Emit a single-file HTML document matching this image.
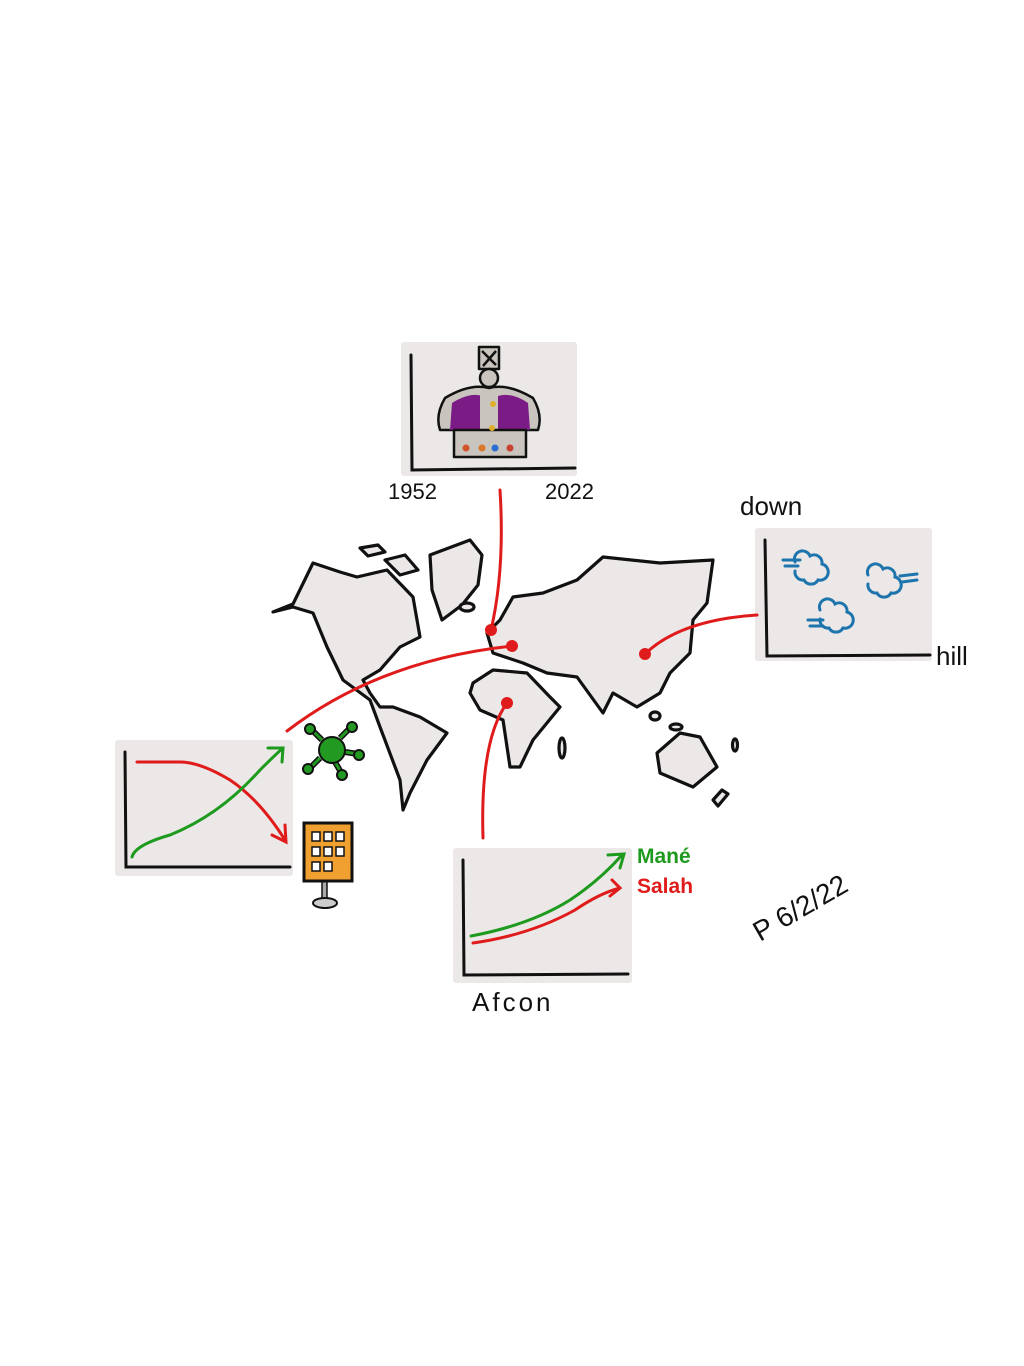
<!DOCTYPE html>
<html><head><meta charset="utf-8"><style>
html,body{margin:0;padding:0;background:#fff;}
svg{display:block}
text{font-family:"Liberation Sans",sans-serif;}
</style></head><body>
<svg width="1024" height="1366" viewBox="0 0 1024 1366" xmlns="http://www.w3.org/2000/svg">
<rect width="1024" height="1366" fill="#fff"/>
<rect x="401" y="342" width="176" height="134" fill="#ebe8e7" rx="3"/>
<rect x="755" y="528" width="177" height="133" fill="#ebe8e7" rx="3"/>
<rect x="115" y="740" width="178" height="136" fill="#ebe8e7" rx="3"/>
<rect x="453" y="848" width="179" height="135" fill="#ebe8e7" rx="3"/>
<g stroke="#111" stroke-width="3" fill="none" stroke-linecap="round">
<path d="M411 355 L412 470 L575 468"/>
<path d="M765 540 L767 656 L930 655"/>
<path d="M125 752 L126 867 L290 867"/>
<path d="M463 860 L464 975 L628 974"/>
</g>
<g stroke="#111" stroke-width="2.5" stroke-linejoin="round">
<rect x="479" y="347" width="20" height="22" fill="#c9c4bd"/>
<path d="M482 351 L496 365 M496 351 L483 366" fill="none"/>
<circle cx="489" cy="378" r="9" fill="#c9c4bd"/>
<path d="M445 398 Q470 383 489 388 Q508 383 533 398 Q543 415 538 430 L440 430 Q435 415 445 398Z" fill="#c9c4bd"/>
<path d="M452 403 Q470 392 482 396 L484 430 L450 430Z M498 396 Q512 392 528 403 L530 430 L497 430Z" fill="#7a1b86" stroke="none"/>
<path d="M480 395 L498 395 L498 432 L480 432Z" fill="#c9c4bd" stroke="none"/>
<path d="M454 430 L526 430 L526 457 L454 457Z" fill="#c9c4bd"/>
</g>
<circle cx="466" cy="448" r="3.5" fill="#d2552a"/><circle cx="482" cy="448" r="3.5" fill="#d9782a"/>
<circle cx="495" cy="448" r="3.5" fill="#2c6ed1"/><circle cx="510" cy="448" r="3.5" fill="#c94130"/>
<circle cx="493" cy="404" r="3" fill="#e0b02a"/><circle cx="492" cy="428" r="3" fill="#e0b02a"/>
<text x="388" y="499" font-size="22" fill="#111">1952</text>
<text x="545" y="499" font-size="22" fill="#111">2022</text>
<g fill="#ebe8e7" stroke="#111" stroke-width="3.2" stroke-linejoin="round">
<path d="M273 612 L293 604 L313 563 L340 572 L357 577 L387 570 L413 597 L420 637 L400 647 L380 670 L363 680 L370 693 L380 707 L393 707 L420 717 L447 733 L427 760 L410 793 L403 810 L400 780 L380 727 L370 700 L343 680 L327 647 L313 613 L293 607Z"/>
<path d="M430 555 L470 540 L482 555 L478 585 L462 605 L442 620 L432 590Z"/>
<path d="M360 548 L378 545 L385 552 L368 556Z"/>
<path d="M385 560 L405 555 L418 570 L400 575Z"/>
<path d="M500 620 L513 597 L543 593 L577 580 L603 557 L660 563 L713 560 L707 603 L693 620 L690 653 L670 673 L660 693 L637 707 L613 693 L603 713 L577 677 L547 673 L523 663 L493 653 L487 633Z"/>
<path d="M473 683 L493 670 L527 673 L550 697 L560 707 L533 740 L520 767 L510 767 L503 720 L480 710 L470 693Z"/>
<path d="M657 753 L680 733 L700 737 L717 767 L693 787 L660 773Z"/>
<ellipse cx="562" cy="748" rx="3" ry="10"/>
<ellipse cx="676" cy="727" rx="6" ry="3"/>
<ellipse cx="735" cy="745" rx="2.5" ry="6"/>
<path d="M713 800 L722 790 L728 794 L718 806Z"/>
<ellipse cx="467" cy="607" rx="7" ry="4"/>
<ellipse cx="655" cy="716" rx="5" ry="4"/>
</g>
<g stroke="#e01b1b" stroke-width="3" fill="none" stroke-linecap="round">
<path d="M500 490 Q505 570 491 630"/>
<path d="M287 731 Q380 660 512 646"/>
<path d="M483 838 Q480 740 507 703"/>
<path d="M757 615 Q680 620 645 654"/>
</g>
<g fill="#e01b1b"><circle cx="491" cy="630" r="6"/><circle cx="512" cy="646" r="6"/><circle cx="507" cy="703" r="6"/><circle cx="645" cy="654" r="6"/></g>
<g stroke="#1e74ad" stroke-width="3" fill="none" stroke-linecap="round">
<path d="M795 562 a8 8 0 0 1 15 -6 a8 8 0 0 1 12 8 a8 8 0 0 1 -4 16 a8 8 0 0 1 -14 0 a8 8 0 0 1 -9 -9"/>
<path d="M783 560 L800 560 M785 566 L798 566"/>
<path d="M820 610 a8 8 0 0 1 15 -6 a8 8 0 0 1 12 8 a8 8 0 0 1 -4 16 a8 8 0 0 1 -14 0 a8 8 0 0 1 -9 -9"/>
<path d="M808 620 L823 620 M810 626 L823 626"/>
<path d="M868 575 a8 8 0 0 1 15 -6 a8 8 0 0 1 12 8 a8 8 0 0 1 -4 16 a8 8 0 0 1 -14 0 a8 8 0 0 1 -9 -9"/>
<path d="M900 576 L917 574 M902 582 L917 580"/>
</g>
<text x="740" y="515" font-size="26" fill="#111">down</text>
<text x="936" y="665" font-size="26" fill="#111">hill</text>
<g fill="none" stroke-width="3" stroke-linecap="round">
<path d="M137 762 L180 762 Q200 762 230 780 Q260 800 285 840 M272 835 L286 842 L285 825" stroke="#e01b1b"/>
<path d="M132 857 Q135 845 170 835 Q220 815 260 770 Q275 755 283 748 M268 748 L283 748 L282 762" stroke="#1e9a1e"/>
</g>
<g stroke="#111" stroke-width="2" fill="#229a22">
<path d="M322 740 L312 730 M340 738 L350 728 M345 752 L358 754 M335 762 L342 774 M320 758 L310 768" stroke="#111" stroke-width="6"/>
<path d="M322 740 L312 730 M340 738 L350 728 M345 752 L358 754 M335 762 L342 774 M320 758 L310 768" stroke="#229a22" stroke-width="3"/>
<circle cx="310" cy="729" r="5"/><circle cx="352" cy="727" r="5"/><circle cx="359" cy="755" r="5"/><circle cx="342" cy="775" r="5"/><circle cx="308" cy="769" r="5"/>
<circle cx="332" cy="750" r="13"/>
</g>
<rect x="322" y="878" width="5" height="22" fill="#aaa" stroke="#111" stroke-width="1.5"/>
<ellipse cx="325" cy="903" rx="12" ry="5" fill="#ccc" stroke="#111" stroke-width="2"/>
<rect x="304" y="823" width="48" height="58" fill="#f0a030" stroke="#111" stroke-width="3"/>
<g fill="#fff" stroke="#111" stroke-width="1.5">
<rect x="312" y="832" width="8" height="9"/><rect x="324" y="832" width="8" height="9"/><rect x="336" y="832" width="8" height="9"/>
<rect x="312" y="847" width="8" height="9"/><rect x="324" y="847" width="8" height="9"/><rect x="336" y="847" width="8" height="9"/>
<rect x="312" y="862" width="8" height="9"/><rect x="324" y="862" width="8" height="9"/>
</g>
<g fill="none" stroke-width="3" stroke-linecap="round">
<path d="M471 936 Q530 925 570 900 Q600 880 622 855 M608 855 L624 854 L620 868" stroke="#1e9a1e"/>
<path d="M473 943 Q530 935 575 910 Q600 893 620 888 M612 880 L620 888 L610 896" stroke="#e01b1b"/>
</g>
<text x="637" y="863" font-size="21" font-weight="bold" fill="#1e9a1e">Mané</text>
<text x="637" y="893" font-size="21" font-weight="bold" fill="#e01b1b">Salah</text>
<text x="472" y="1011" font-size="26" fill="#111" letter-spacing="3">Afcon</text>
<text x="760" y="942" font-size="28" fill="#111" transform="rotate(-30 760 942)">P 6/2/22</text>
</svg>
</body></html>
